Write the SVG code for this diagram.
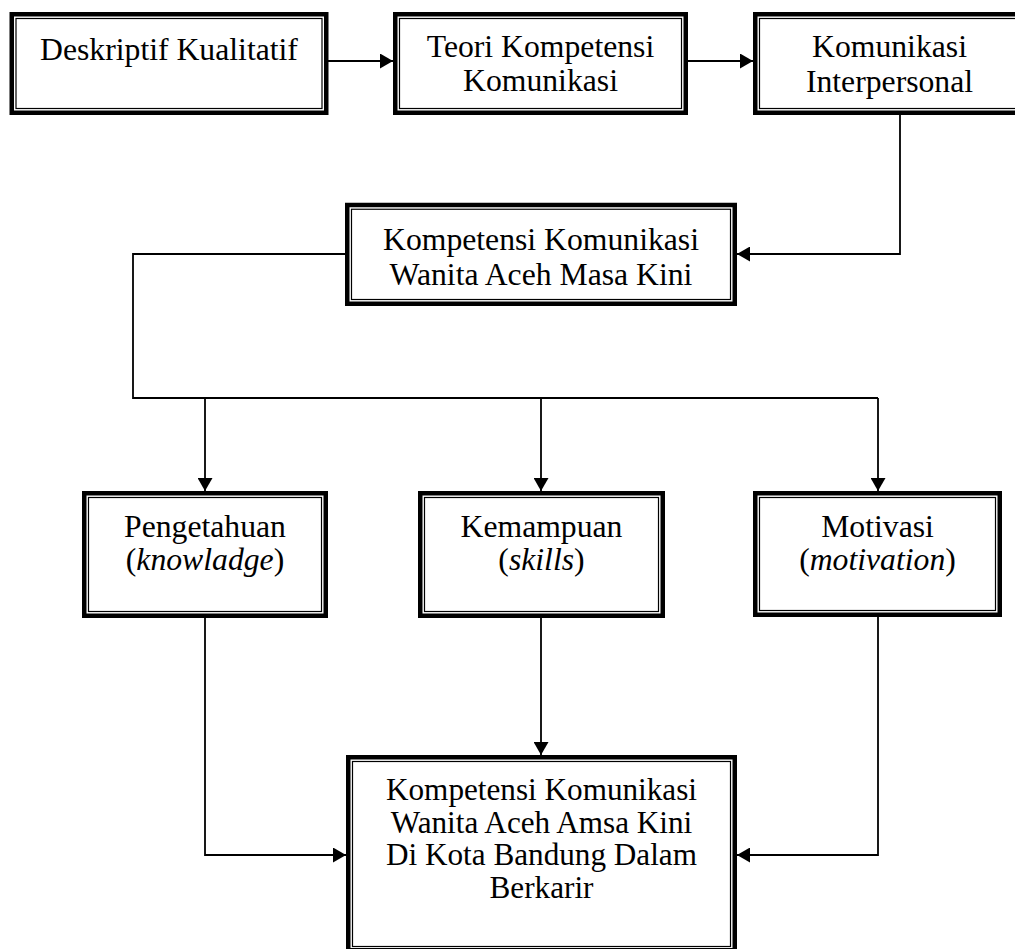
<svg xmlns="http://www.w3.org/2000/svg" width="1015" height="949" viewBox="0 0 1015 949">
<style>
.outer{fill:#fff;stroke:#000;stroke-width:4.5}
.inner{fill:none;stroke:#000;stroke-width:1.2}
.t{font-family:"Liberation Serif","Times New Roman",serif;font-size:31.7px;fill:#000;text-anchor:middle}
.t2{font-size:31.2px}
.c{fill:none;stroke:#000;stroke-width:1.8}
</style>
<defs>
<marker id="ah" markerUnits="userSpaceOnUse" markerWidth="14" markerHeight="15" refX="13" refY="7.5" orient="auto">
<path d="M0,0 L13,7.5 L0,15 z" fill="#000"/>
</marker>
</defs>
<rect width="1015" height="949" fill="#fff"/>
<g id="connectors">
<path class="c" d="M328,61 H393" marker-end="url(#ah)"/>
<path class="c" d="M688,61 H753" marker-end="url(#ah)"/>
<path class="c" d="M900,115 V254 H737" marker-end="url(#ah)"/>
<path class="c" d="M345,254 H133 V398 H878"/>
<path class="c" d="M205,398 V491" marker-end="url(#ah)"/>
<path class="c" d="M541,398 V491" marker-end="url(#ah)"/>
<path class="c" d="M878,398 V491" marker-end="url(#ah)"/>
<path class="c" d="M205,618 V855 H346" marker-end="url(#ah)"/>
<path class="c" d="M541,618 V755" marker-end="url(#ah)"/>
<path class="c" d="M878,617 V855 H737" marker-end="url(#ah)"/>
</g>
<g id="n1">
<rect class="outer" x="11.75" y="14.25" width="314.5" height="98.5"/>
<rect class="inner" x="16" y="18.5" width="306" height="90"/>
<text class="t" x="169" y="60">Deskriptif Kualitatif</text>
</g>
<g id="n2">
<rect class="outer" x="395.25" y="14.25" width="290.5" height="98.5"/>
<rect class="inner" x="399.5" y="18.5" width="282" height="90"/>
<text class="t" x="540.5" y="57">Teori Kompetensi</text>
<text class="t" x="540.5" y="91">Komunikasi</text>
</g>
<g id="n3">
<rect class="outer" x="755.25" y="14.25" width="270" height="98.5"/>
<rect class="inner" x="759.5" y="18.5" width="262" height="90"/>
<text class="t" x="889.5" y="57">Komunikasi</text>
<text class="t" x="889.5" y="92">Interpersonal</text>
</g>
<g id="n4">
<rect class="outer" x="347.25" y="205" width="387.5" height="98.75"/>
<rect class="inner" x="351.5" y="209.25" width="379" height="90.25"/>
<text class="t" x="541" y="249.5">Kompetensi Komunikasi</text>
<text class="t" x="541" y="284.5">Wanita Aceh Masa Kini</text>
</g>
<g id="n5">
<rect class="outer" x="84.25" y="493.25" width="241.5" height="122.5"/>
<rect class="inner" x="88.5" y="497.5" width="233" height="114"/>
<text class="t" x="205" y="537">Pengetahuan</text>
<text class="t" x="205" y="570">(<tspan font-style="italic">knowladge</tspan>)</text>
</g>
<g id="n6">
<rect class="outer" x="420.25" y="493.25" width="242.5" height="122.5"/>
<rect class="inner" x="424.5" y="497.5" width="234" height="114"/>
<text class="t" x="541.5" y="537">Kemampuan</text>
<text class="t" x="541.5" y="570">(<tspan font-style="italic">skills</tspan>)</text>
</g>
<g id="n7">
<rect class="outer" x="755.25" y="493.25" width="244.5" height="121.5"/>
<rect class="inner" x="759.5" y="497.5" width="236" height="113"/>
<text class="t" x="877.5" y="537">Motivasi</text>
<text class="t" x="877.5" y="570">(<tspan font-style="italic">motivation</tspan>)</text>
</g>
<g id="n8">
<rect class="outer" x="348.25" y="757.25" width="386.5" height="193"/>
<rect class="inner" x="352.5" y="761.5" width="378" height="185"/>
<text class="t t2" x="541.5" y="800">Kompetensi Komunikasi</text>
<text class="t t2" x="541.5" y="832.5">Wanita Aceh Amsa Kini</text>
<text class="t t2" x="541.5" y="865">Di Kota Bandung Dalam</text>
<text class="t t2" x="541.5" y="897.5">Berkarir</text>
</g>
</svg>
